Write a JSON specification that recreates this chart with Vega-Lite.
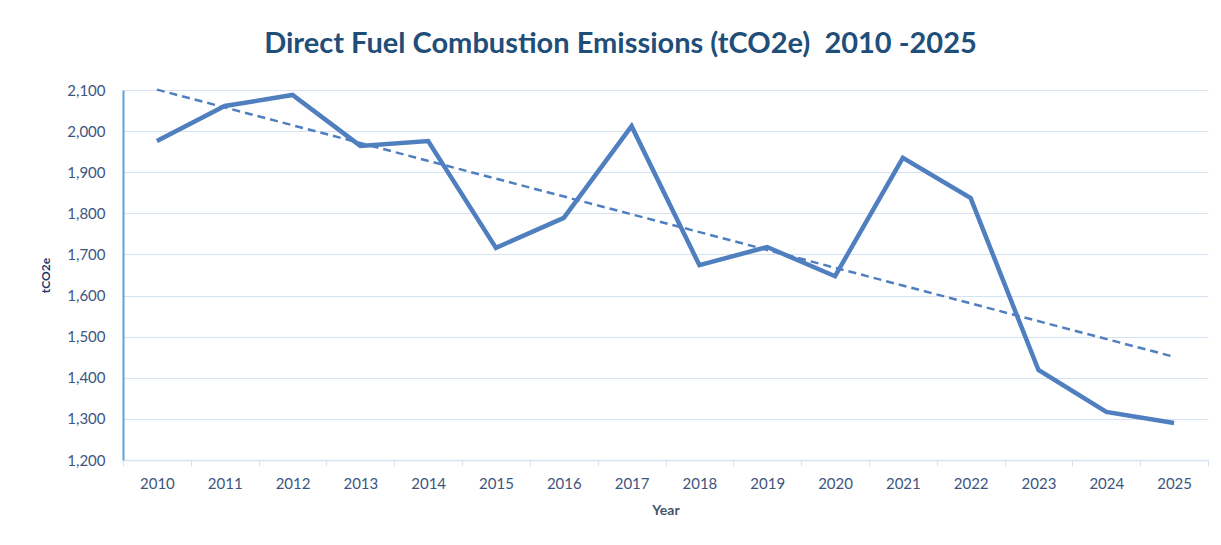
{
  "$schema": "https://vega.github.io/schema/vega-lite/v6.json",
  "width": 1085,
  "height": 370,
  "autosize": {"type": "none"},
  "padding": {"left": 123, "top": 90, "right": 13, "bottom": 85},
  "background": "white",
  "title": {
    "text": "Direct Fuel Combustion Emissions (tCO2e)\u00a0\u00a02010 -2025",
    "anchor": "middle",
    "frame": "group",
    "dx": -45,
    "offset": 24,
    "font": "Lato",
    "fontSize": 29,
    "fontWeight": "bold",
    "color": "#1F4E79"
  },
  "config": {
    "view": {"stroke": null},
    "font": "Lato"
  },
  "datasets": {
    "emissions": [
      {"Year": "2010", "tCO2e": 1976},
      {"Year": "2011", "tCO2e": 2061},
      {"Year": "2012", "tCO2e": 2088},
      {"Year": "2013", "tCO2e": 1964},
      {"Year": "2014", "tCO2e": 1976},
      {"Year": "2015", "tCO2e": 1716},
      {"Year": "2016", "tCO2e": 1789},
      {"Year": "2017", "tCO2e": 2012},
      {"Year": "2018", "tCO2e": 1674},
      {"Year": "2019", "tCO2e": 1718},
      {"Year": "2020", "tCO2e": 1647},
      {"Year": "2021", "tCO2e": 1935},
      {"Year": "2022", "tCO2e": 1837},
      {"Year": "2023", "tCO2e": 1419},
      {"Year": "2024", "tCO2e": 1317},
      {"Year": "2025", "tCO2e": 1290}
    ],
    "trend": [
      {"Year": "2010", "tCO2e": 2101},
      {"Year": "2025", "tCO2e": 1451}
    ]
  },
  "encoding": {
    "x": {
      "field": "Year",
      "type": "ordinal",
      "scale": {"paddingInner": 0, "paddingOuter": 0, "domain": ["2010","2011","2012","2013","2014","2015","2016","2017","2018","2019","2020","2021","2022","2023","2024","2025"]},
      "axis": {
        "title": "Year",
        "titleFont": "Lato",
        "titleFontSize": 14,
        "titleFontWeight": "bold",
        "titleColor": "#44546A",
        "titlePadding": 12,
        "labelFont": "Lato",
        "labelFontSize": 15,
        "labelColor": "#3E5580",
        "labelAngle": 0,
        "labelPadding": 10,
        "tickBand": "extent",
        "tickColor": "#D6E2F2",
        "tickSize": 6,
        "domainColor": "#D6E2F2",
        "domainWidth": 1.5,
        "grid": false
      }
    },
    "y": {
      "field": "tCO2e",
      "type": "quantitative",
      "scale": {"domain": [1200, 2100], "nice": false, "zero": false},
      "axis": {
        "title": "tCO2e",
        "titleFont": "Lato",
        "titleFontSize": 12,
        "titleFontWeight": "bold",
        "titleColor": "#1F3864",
        "titlePadding": 14,
        "labelFont": "Lato",
        "labelFontSize": 15,
        "labelColor": "#3E5580",
        "labelPadding": 18,
        "labelOverlap": false,
        "ticks": false,
        "values": [1200,1300,1400,1500,1600,1700,1800,1900,2000,2100],
        "format": ",d",
        "domainColor": "#5BA3E0",
        "domainWidth": 2,
        "gridColor": "#D6E2F2",
        "gridWidth": 1
      }
    }
  },
  "layer": [
    {
      "data": {"name": "emissions"},
      "mark": {"type": "line", "color": "#4F7FBF", "strokeWidth": 4.5, "strokeJoin": "miter"}
    },
    {
      "data": {"name": "trend"},
      "mark": {"type": "line", "color": "#4F7FBF", "strokeWidth": 2.5, "strokeDash": [8, 5]}
    }
  ]
}
